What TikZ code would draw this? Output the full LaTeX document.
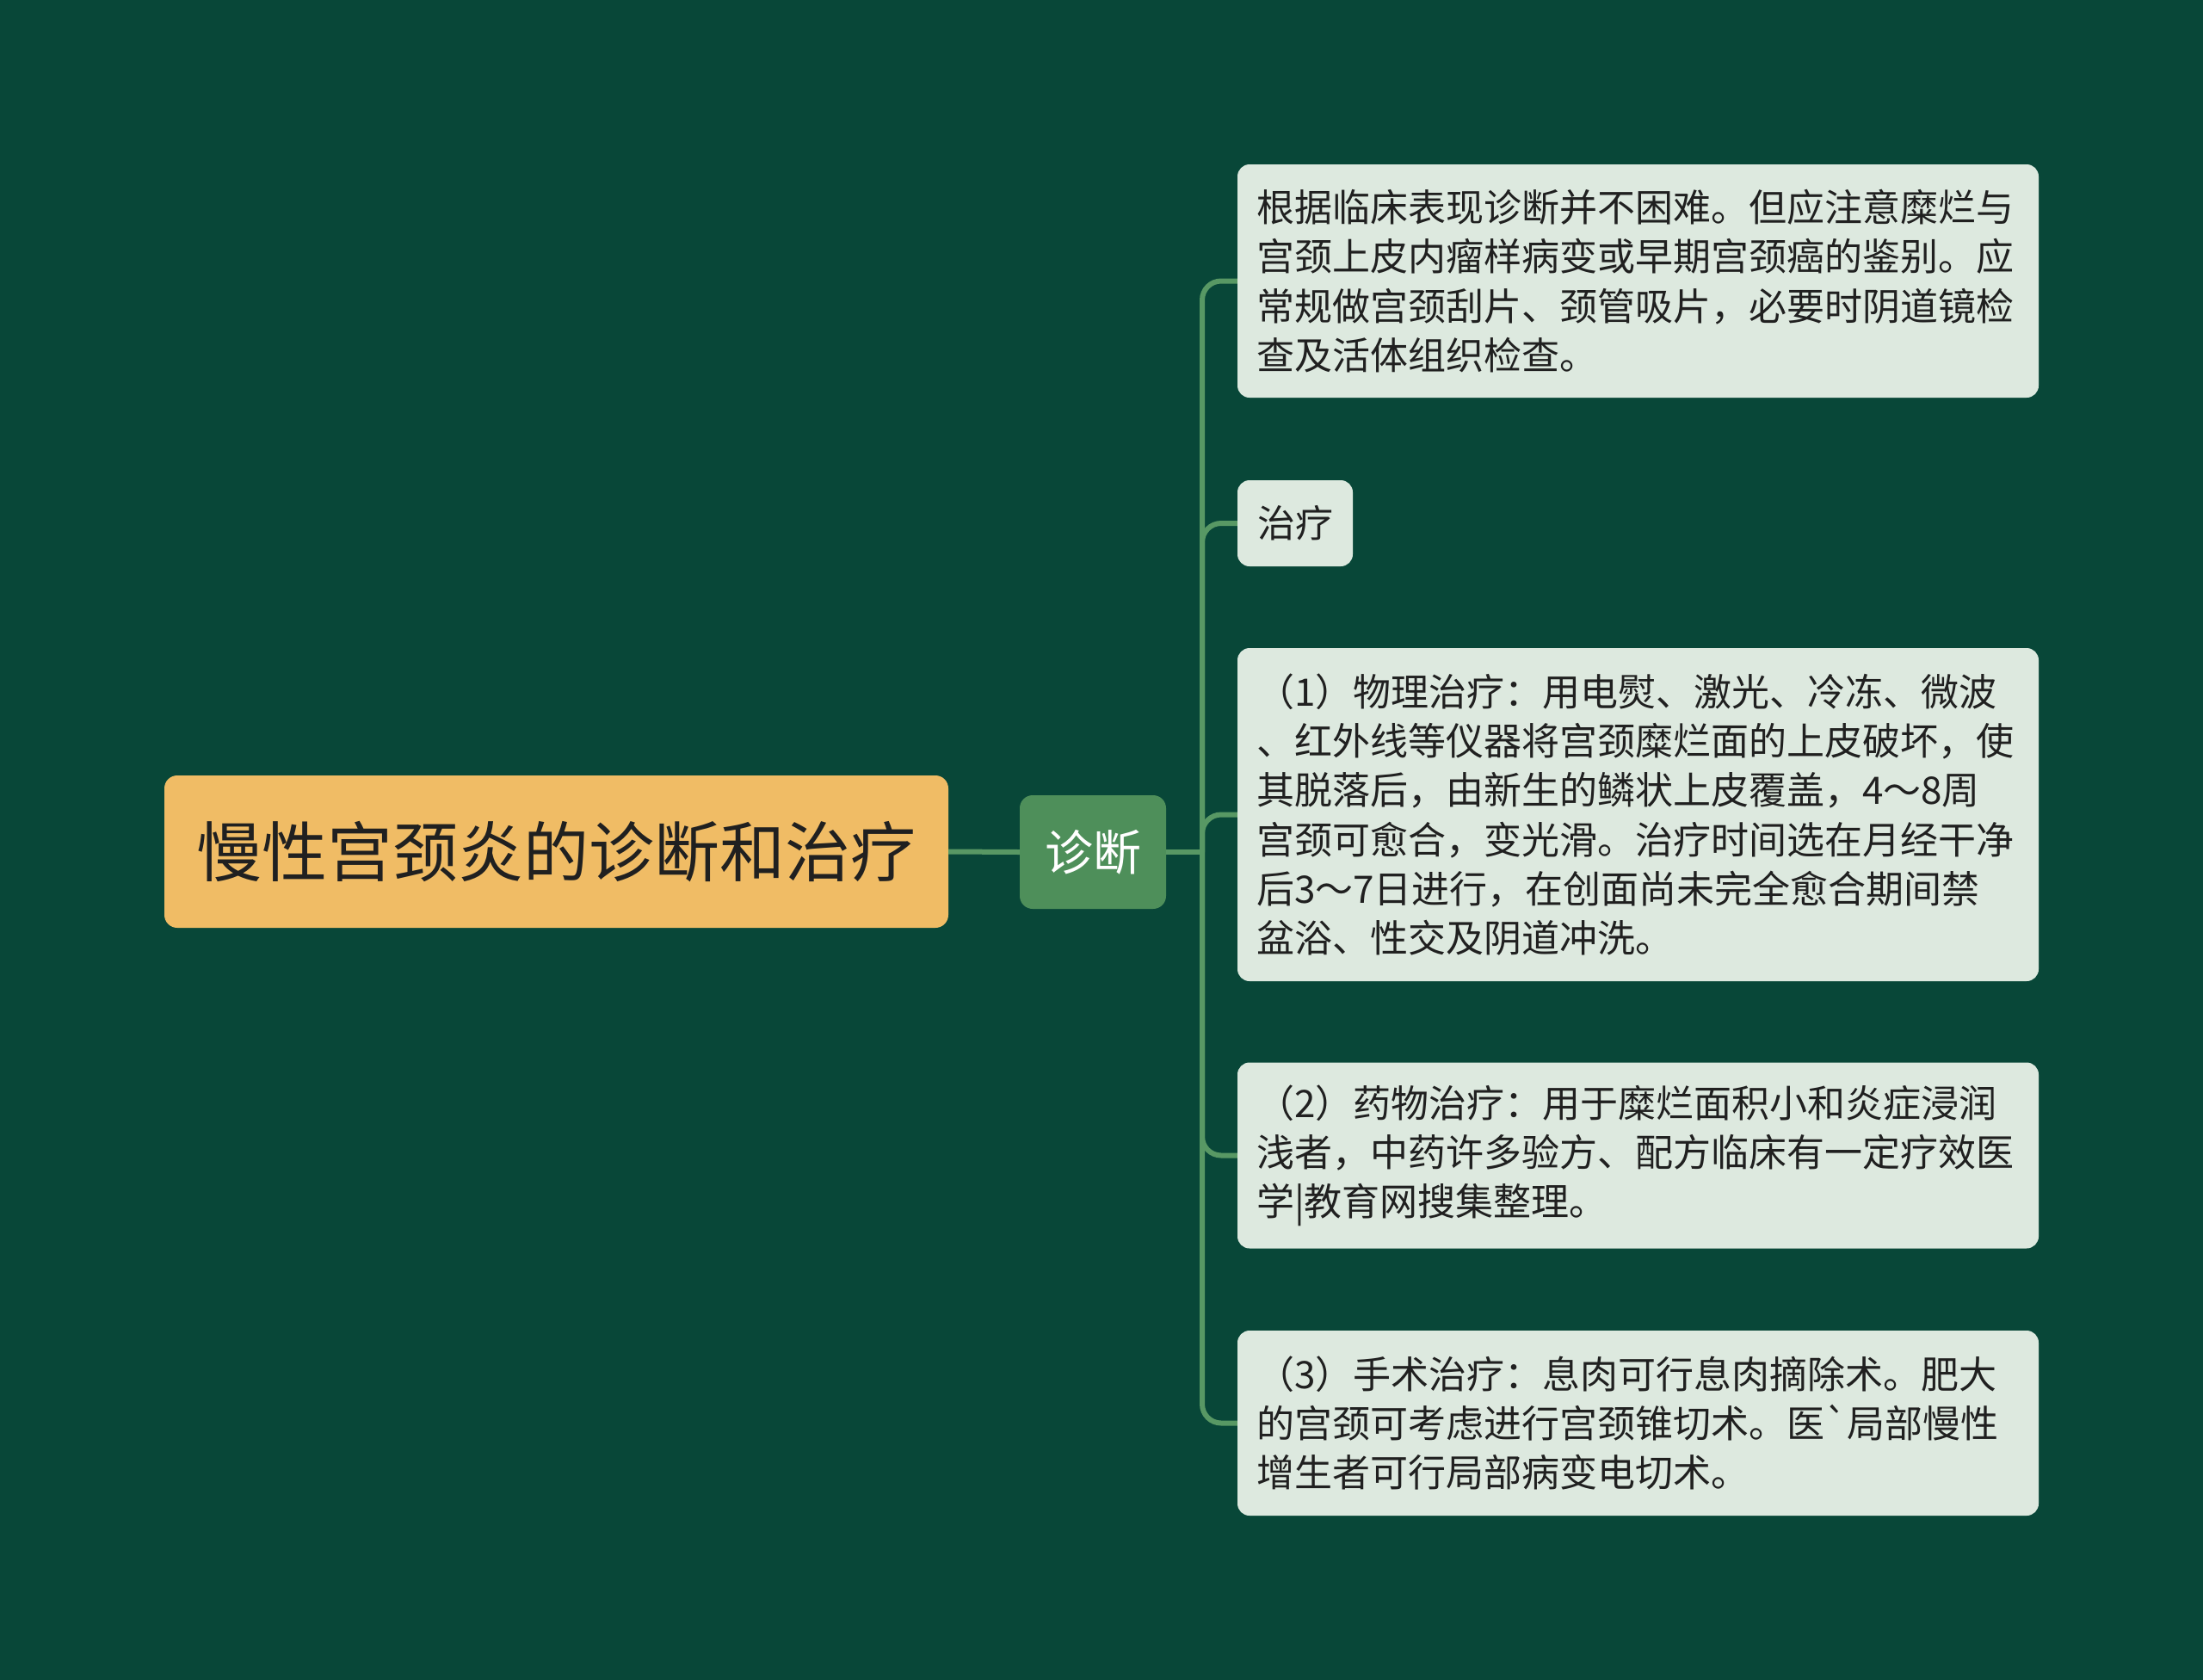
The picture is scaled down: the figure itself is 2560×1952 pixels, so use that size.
\documentclass[tikz,border=0pt]{standalone}
\usepackage{fontspec}
\setmainfont[Ligatures=TeXOff]{Noto Sans CJK SC}
\usetikzlibrary{positioning}
\definecolor{bgcol}{RGB}{8,71,56}
\definecolor{rootcol}{RGB}{240,188,101}
\definecolor{diagcol}{RGB}{78,143,90}
\definecolor{leafcol}{RGB}{221,233,223}
\definecolor{linecol}{RGB}{88,152,100}
\definecolor{inkcol}{RGB}{32,32,32}
\begin{document}
\begin{tikzpicture}[x=1pt,y=-1pt,
   rootbox/.style={fill=rootcol,rounded corners=15pt,inner sep=0pt,minimum width=911pt,minimum height=177pt,font=\fontsize{76}{90}\selectfont,text=inkcol},
   diagbox/.style={fill=diagcol,rounded corners=15pt,inner sep=0pt,minimum width=170pt,minimum height=132pt,font=\fontsize{56}{66}\selectfont,text=white},
   leafbox/.style={fill=leafcol,rounded corners=14pt,inner xsep=22pt,inner ysep=0pt,text width=887pt,align=left,font=\fontsize{44}{57.2}\selectfont,text=inkcol},
   tagbox/.style={fill=leafcol,rounded corners=14pt,inner sep=0pt,minimum width=134pt,minimum height=100pt,font=\fontsize{44}{57.2}\selectfont,text=inkcol},
   link/.style={draw=linecol,line width=6pt,rounded corners=22pt}]
   \fill[bgcol] (0,0) rectangle (2560,1952);
   % main topic and its one branch
   \node[rootbox] (root) at (646.5,989.5) {慢性宫颈炎的诊断和治疗};
   \node[diagbox] (diag) at (1270,990) {诊断};
   \coordinate (fork) at (1397,990);
   % leaves
   \node[leafbox,minimum height=271pt] (c1) at (1903.5,326.5) {根据临床表现诊断并不困难。但应注意糜烂与\\宫颈上皮内瘤样病变或早期宫颈癌的鉴别。应\\常规做宫颈刮片、颈管吸片，必要时阴道镜检\\查及活体组织检查。};
   \node[tagbox] (c2) at (1505,608) {治疗};
   \node[leafbox,minimum height=387pt] (c3) at (1903.5,946.5) {（1）物理治疗：用电熨、激光、冷冻、微波\\、红外线等仪器将宫颈糜烂面的上皮破坏，使\\其脱落后，由新生的鳞状上皮覆盖，4～8周\\宫颈可愈合，变光滑。治疗时间选在月经干净\\后3～7日进行，在创面尚未完全愈合期间禁\\盆浴、性交及阴道冲洗。};
   \node[leafbox,minimum height=216pt] (c4) at (1903.5,1342.5) {（2）药物治疗：用于糜烂面积小和炎症浸润\\浅者，中药许多验方、配方临床有一定疗效医\\学|教育网搜集整理。};
   \node[leafbox,minimum height=215pt] (c5) at (1903.5,1653.5) {（3）手术治疗：息肉可行息肉摘除术。肥大\\的宫颈可考虑进行宫颈锥切术。医`局部慢性\\增生者可行局部病变电切术。};
   % connectors
   \draw[link] (root.east) -- (diag.west);
   \draw[link] (diag.east) -- (fork);
   \foreach \leaf in {c1,c2,c3,c4,c5}
      \draw[link] (fork) |- (\leaf.west);
\end{tikzpicture}
\end{document}
